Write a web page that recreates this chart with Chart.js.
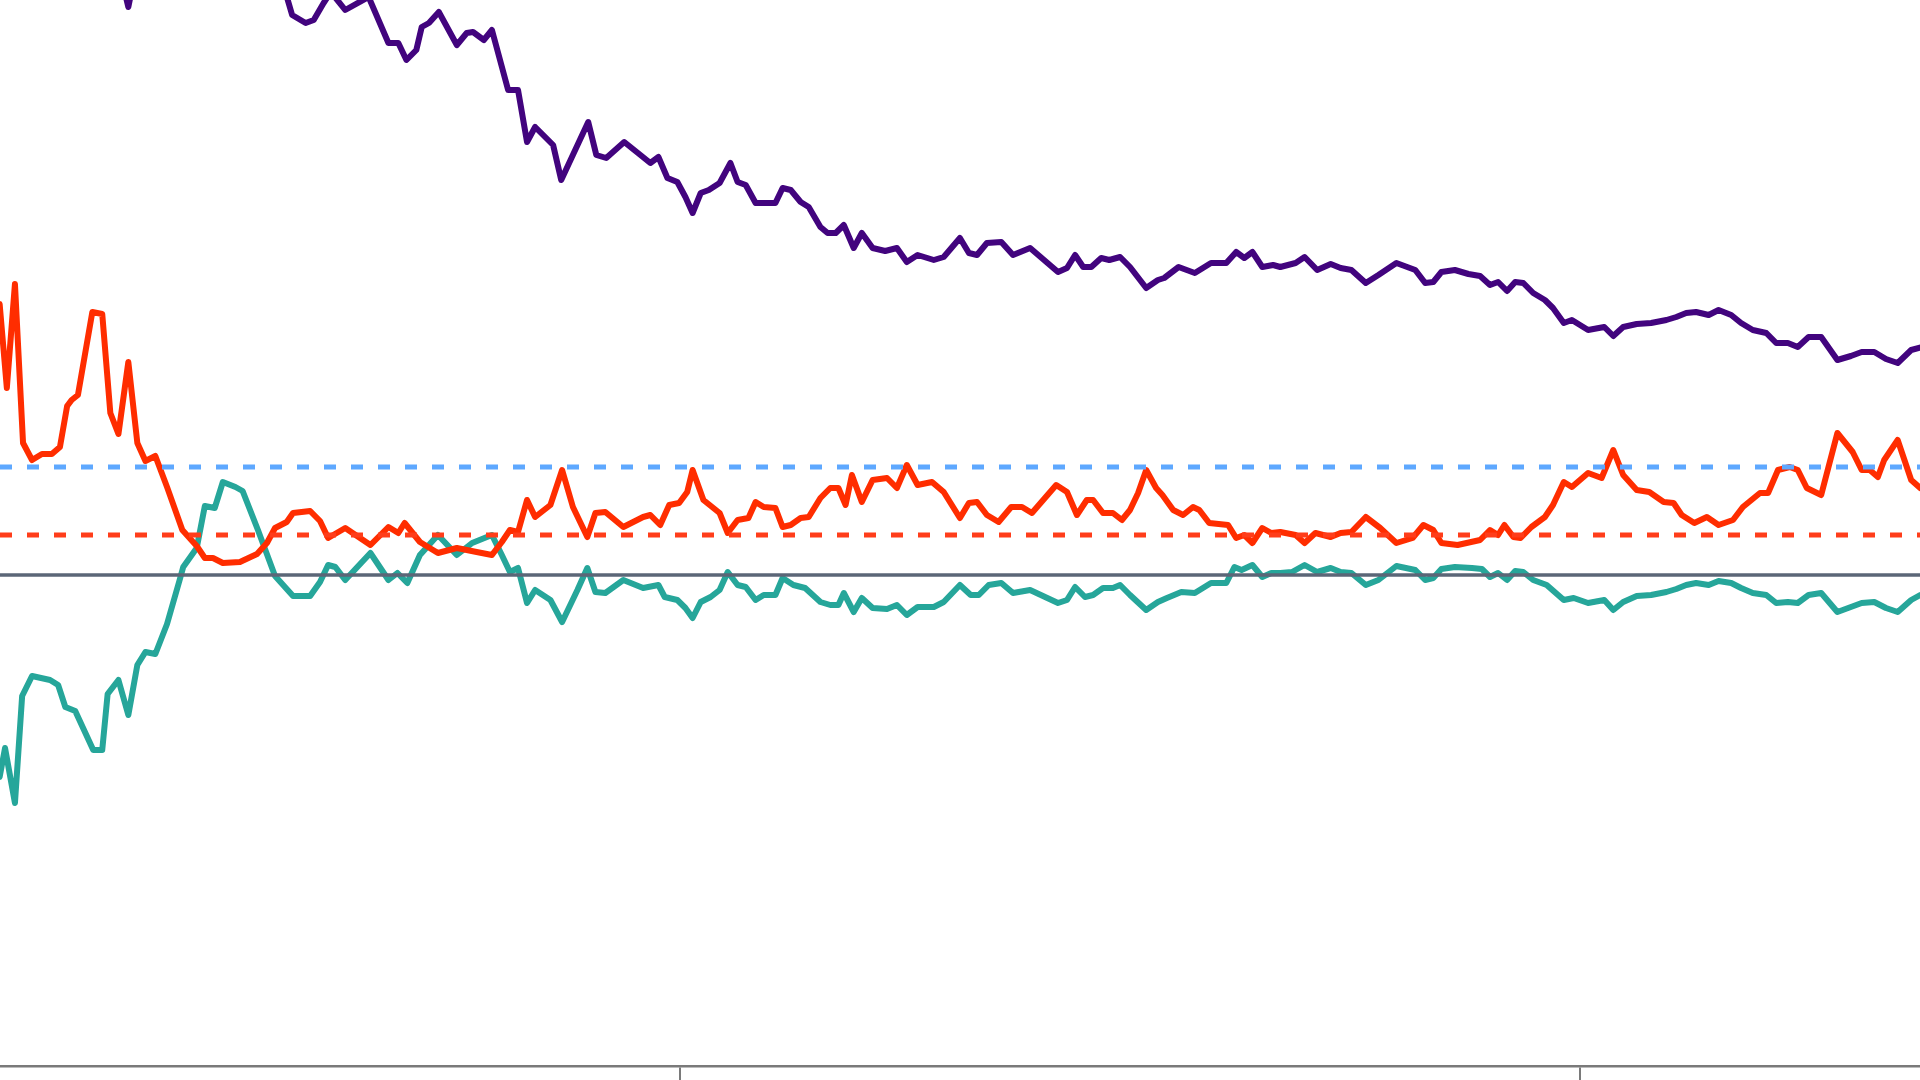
<!DOCTYPE html>
<html>
<head>
<meta charset="utf-8">
<title>Series chart</title>
<script src="https://cdn.jsdelivr.net/npm/chart.js@4/dist/chart.umd.min.js"></script>
<style>
  html, body { margin: 0; padding: 0; background: #ffffff; overflow: hidden; }
  #wrap { position: relative; width: 1920px; height: 1080px; }
</style>
</head>
<body>
<div id="wrap"><canvas id="chart"></canvas></div>
<script>
// Visible window of the chart
const yearRange = [1992.444, 2013.778];
const valueRange = [-24.55, 28.75];
const tickYears = [2000, 2010];

// Reference levels
const zeroLevel = 0;
const targetLevel = 2.0;
const upperLevel = 5.4;
const levelSpan = [1992.144, 2014.5];

// Purple series
const purpleYears = [
  1992.22, 1993.69, 1993.87, 1994.02, 1995.00, 1995.56, 1995.69, 1995.84, 1995.93, 1996.04,
  1996.12, 1996.28, 1996.54, 1996.76, 1996.87, 1996.96, 1997.07, 1997.13, 1997.21, 1997.32,
  1997.52, 1997.63, 1997.70, 1997.82, 1997.91, 1998.09, 1998.20, 1998.30, 1998.39, 1998.59,
  1998.68, 1998.98, 1999.07, 1999.18, 1999.38, 1999.56, 1999.67, 1999.76, 1999.86, 1999.97,
  2000.06, 2000.14, 2000.23, 2000.32, 2000.44, 2000.56, 2000.64, 2000.73, 2000.84, 2001.06,
  2001.14, 2001.23, 2001.34, 2001.43, 2001.56, 2001.64, 2001.73, 2001.82, 2001.93, 2002.02,
  2002.14, 2002.28, 2002.41, 2002.52, 2002.64, 2002.82, 2002.93, 2003.11, 2003.21, 2003.30,
  2003.41, 2003.57, 2003.70, 2003.89, 2004.20, 2004.30, 2004.39, 2004.48, 2004.57, 2004.68,
  2004.77, 2004.89, 2005.00, 2005.18, 2005.31, 2005.38, 2005.54, 2005.72, 2005.90, 2006.07,
  2006.18, 2006.27, 2006.36, 2006.47, 2006.59, 2006.67, 2006.84, 2006.94, 2007.08, 2007.23,
  2007.34, 2007.46, 2007.62, 2007.76, 2007.96, 2008.17, 2008.28, 2008.37, 2008.46, 2008.61,
  2008.76, 2008.89, 2009.00, 2009.09, 2009.19, 2009.28, 2009.37, 2009.48, 2009.61, 2009.70,
  2009.82, 2009.91, 2010.09, 2010.27, 2010.37, 2010.48, 2010.63, 2010.79, 2010.96, 2011.07,
  2011.18, 2011.29, 2011.43, 2011.54, 2011.68, 2011.79, 2011.92, 2012.07, 2012.18, 2012.31,
  2012.42, 2012.54, 2012.68, 2012.86, 2013.01, 2013.13, 2013.27, 2013.40, 2013.53, 2013.68,
  2013.89
];
const purpleValues = [
  32.25, 31.75, 28.4, 31.75, 32.25, 30.0, 28.0, 27.6, 27.75, 28.6,
  29.15, 28.25, 28.9, 26.6, 26.6, 25.75, 26.25, 27.4, 27.6, 28.15,
  26.5, 27.1, 27.15, 26.75, 27.25, 24.25, 24.25, 21.65, 22.4, 21.5,
  19.75, 22.65, 21.0, 20.85, 21.65, 21.0, 20.6, 20.9, 19.85, 19.65,
  18.9, 18.1, 19.1, 19.25, 19.6, 20.6, 19.65, 19.5, 18.6, 18.6,
  19.35, 19.25, 18.65, 18.4, 17.4, 17.1, 17.1, 17.5, 16.35, 17.1,
  16.35, 16.2, 16.35, 15.65, 16.0, 15.75, 15.9, 16.85, 16.1, 16.0,
  16.6, 16.65, 16.0, 16.35, 15.15, 15.35, 16.0, 15.4, 15.4, 15.85,
  15.75, 15.9, 15.4, 14.35, 14.75, 14.85, 15.4, 15.1, 15.6, 15.6,
  16.15, 15.85, 16.15, 15.4, 15.5, 15.4, 15.6, 15.9, 15.25, 15.55,
  15.35, 15.25, 14.6, 15.0, 15.6, 15.25, 14.6, 14.65, 15.15, 15.25,
  15.05, 14.95, 14.5, 14.65, 14.2, 14.65, 14.6, 14.1, 13.75, 13.35,
  12.6, 12.75, 12.25, 12.4, 11.95, 12.4, 12.55, 12.6, 12.75, 12.9,
  13.1, 13.15, 13.0, 13.25, 13.0, 12.6, 12.25, 12.1, 11.6, 11.6,
  11.4, 11.9, 11.9, 10.75, 10.95, 11.15, 11.15, 10.8, 10.6, 11.25,
  11.5
];

// Red series
const redYears = [
  1992.36, 1992.44, 1992.52, 1992.61, 1992.70, 1992.80, 1992.91, 1993.02, 1993.11, 1993.19,
  1993.24, 1993.31, 1993.47, 1993.58, 1993.67, 1993.76, 1993.87, 1993.97, 1994.06, 1994.17,
  1994.30, 1994.47, 1994.63, 1994.72, 1994.81, 1994.92, 1995.11, 1995.30, 1995.41, 1995.50,
  1995.63, 1995.70, 1995.89, 1996.00, 1996.09, 1996.28, 1996.56, 1996.76, 1996.87, 1996.94,
  1997.11, 1997.31, 1997.52, 1997.74, 1997.91, 1998.02, 1998.11, 1998.20, 1998.30, 1998.39,
  1998.56, 1998.69, 1998.81, 1998.97, 1999.06, 1999.17, 1999.37, 1999.59, 1999.67, 1999.78,
  1999.88, 1999.99, 2000.08, 2000.14, 2000.26, 2000.44, 2000.53, 2000.64, 2000.76, 2000.84,
  2000.93, 2001.06, 2001.14, 2001.23, 2001.34, 2001.43, 2001.56, 2001.67, 2001.76, 2001.84,
  2001.91, 2002.02, 2002.14, 2002.30, 2002.41, 2002.52, 2002.64, 2002.80, 2002.93, 2003.11,
  2003.21, 2003.30, 2003.41, 2003.54, 2003.68, 2003.80, 2003.91, 2004.18, 2004.30, 2004.41,
  2004.52, 2004.59, 2004.70, 2004.81, 2004.91, 2005.00, 2005.09, 2005.18, 2005.29, 2005.36,
  2005.48, 2005.59, 2005.70, 2005.77, 2005.88, 2006.09, 2006.18, 2006.27, 2006.36, 2006.47,
  2006.57, 2006.67, 2006.84, 2006.94, 2007.06, 2007.23, 2007.34, 2007.46, 2007.62, 2007.78,
  2007.96, 2008.14, 2008.26, 2008.37, 2008.46, 2008.64, 2008.89, 2009.00, 2009.09, 2009.16,
  2009.26, 2009.34, 2009.46, 2009.61, 2009.70, 2009.82, 2009.91, 2010.09, 2010.24, 2010.37,
  2010.48, 2010.63, 2010.77, 2010.93, 2011.04, 2011.13, 2011.27, 2011.41, 2011.54, 2011.70,
  2011.81, 2012.00, 2012.09, 2012.20, 2012.33, 2012.42, 2012.52, 2012.68, 2012.86, 2013.03,
  2013.13, 2013.22, 2013.31, 2013.38, 2013.53, 2013.68, 2013.78, 2013.89
];
const redValues = [
  15.25, 13.55, 9.35, 14.55, 6.6, 5.75, 6.05, 6.05, 6.4, 8.45,
  8.75, 9.0, 13.15, 13.05, 8.1, 7.05, 10.65, 6.6, 5.7, 5.95,
  4.4, 2.25, 1.45, 0.85, 0.85, 0.6, 0.65, 1.05, 1.6, 2.35,
  2.65, 3.1, 3.2, 2.7, 1.85, 2.35, 1.5, 2.4, 2.1, 2.6,
  1.65, 1.1, 1.35, 1.15, 1.0, 1.65, 2.25, 2.15, 3.75, 2.9,
  3.5, 5.25, 3.4, 1.9, 3.1, 3.15, 2.4, 2.9, 3.0, 2.5,
  3.5, 3.6, 4.15, 5.25, 3.75, 3.1, 2.1, 2.75, 2.85, 3.65,
  3.4, 3.35, 2.4, 2.5, 2.85, 2.9, 3.85, 4.35, 4.35, 3.5,
  5.0, 3.65, 4.75, 4.85, 4.35, 5.5, 4.5, 4.65, 4.15, 2.85,
  3.6, 3.65, 3.0, 2.65, 3.4, 3.4, 3.1, 4.5, 4.15, 3.0,
  3.75, 3.75, 3.1, 3.1, 2.75, 3.25, 4.1, 5.25, 4.35, 4.0,
  3.25, 3.0, 3.4, 3.25, 2.6, 2.5, 1.85, 2.0, 1.6, 2.35,
  2.1, 2.15, 2.0, 1.6, 2.1, 1.9, 2.1, 2.15, 2.9, 2.35,
  1.6, 1.85, 2.5, 2.25, 1.6, 1.5, 1.75, 2.25, 2.0, 2.5,
  1.9, 1.85, 2.4, 2.9, 3.5, 4.65, 4.4, 5.1, 4.85, 6.25,
  5.0, 4.25, 4.15, 3.65, 3.6, 3.0, 2.6, 2.9, 2.5, 2.75,
  3.4, 4.1, 4.1, 5.25, 5.4, 5.25, 4.35, 4.0, 7.1, 6.15,
  5.25, 5.25, 4.9, 5.75, 6.75, 4.75, 4.35, 4.15
];

// Teal series
const tealYears = [
  1992.36, 1992.44, 1992.50, 1992.61, 1992.69, 1992.80, 1993.00, 1993.09, 1993.17, 1993.28,
  1993.48, 1993.58, 1993.64, 1993.76, 1993.87, 1993.97, 1994.06, 1994.17, 1994.30, 1994.44,
  1994.48, 1994.63, 1994.72, 1994.83, 1994.92, 1995.06, 1995.14, 1995.31, 1995.50, 1995.70,
  1995.89, 1996.00, 1996.09, 1996.17, 1996.28, 1996.56, 1996.76, 1996.86, 1996.97, 1997.11,
  1997.31, 1997.52, 1997.69, 1997.91, 1998.02, 1998.11, 1998.20, 1998.30, 1998.39, 1998.56,
  1998.69, 1998.86, 1998.97, 1999.06, 1999.17, 1999.37, 1999.59, 1999.76, 1999.83, 1999.97,
  2000.06, 2000.14, 2000.23, 2000.34, 2000.44, 2000.53, 2000.64, 2000.73, 2000.84, 2000.93,
  2001.06, 2001.14, 2001.26, 2001.39, 2001.56, 2001.67, 2001.76, 2001.82, 2001.93, 2002.02,
  2002.14, 2002.30, 2002.41, 2002.52, 2002.64, 2002.82, 2002.93, 2003.11, 2003.23, 2003.32,
  2003.43, 2003.57, 2003.70, 2003.89, 2004.20, 2004.30, 2004.39, 2004.50, 2004.59, 2004.70,
  2004.81, 2004.89, 2005.00, 2005.18, 2005.31, 2005.41, 2005.57, 2005.72, 2005.90, 2006.07,
  2006.16, 2006.24, 2006.36, 2006.47, 2006.57, 2006.67, 2006.80, 2006.94, 2007.08, 2007.23,
  2007.34, 2007.46, 2007.62, 2007.76, 2007.96, 2008.17, 2008.28, 2008.37, 2008.46, 2008.61,
  2008.80, 2008.91, 2009.00, 2009.09, 2009.19, 2009.28, 2009.37, 2009.48, 2009.63, 2009.82,
  2009.93, 2010.09, 2010.27, 2010.37, 2010.48, 2010.63, 2010.79, 2010.96, 2011.07, 2011.18,
  2011.29, 2011.43, 2011.54, 2011.68, 2011.79, 2011.92, 2012.07, 2012.18, 2012.31, 2012.42,
  2012.54, 2012.68, 2012.86, 2013.01, 2013.13, 2013.27, 2013.40, 2013.53, 2013.68, 2013.78,
  2013.89
];
const tealValues = [
  -9.25, -10.1, -8.65, -11.4, -6.05, -5.05, -5.25, -5.5, -6.6, -6.8,
  -8.75, -8.75, -5.95, -5.25, -7.0, -4.5, -3.85, -3.95, -2.45, -0.25,
  0.4, 1.35, 3.45, 3.35, 4.65, 4.4, 4.2, 2.25, -0.05, -1.05,
  -1.05, -0.35, 0.5, 0.4, -0.25, 1.1, -0.25, 0.1, -0.4, 1.0,
  2.0, 1.0, 1.6, 2.0, 1.0, 0.15, 0.35, -1.4, -0.75, -1.25,
  -2.35, -0.75, 0.35, -0.85, -0.9, -0.25, -0.65, -0.5, -1.1, -1.25,
  -1.65, -2.15, -1.35, -1.1, -0.75, 0.15, -0.5, -0.6, -1.25, -1.0,
  -1.0, -0.15, -0.5, -0.65, -1.35, -1.5, -1.5, -0.9, -1.85, -1.15,
  -1.65, -1.7, -1.5, -2.0, -1.6, -1.6, -1.35, -0.5, -1.0, -1.0,
  -0.5, -0.4, -0.9, -0.75, -1.4, -1.25, -0.6, -1.1, -1.0, -0.65,
  -0.65, -0.5, -1.0, -1.75, -1.35, -1.15, -0.85, -0.9, -0.4, -0.4,
  0.4, 0.25, 0.5, -0.1, 0.1, 0.1, 0.15, 0.5, 0.15, 0.35,
  0.15, 0.1, -0.5, -0.25, 0.45, 0.25, -0.25, -0.15, 0.3, 0.4,
  0.35, 0.3, -0.1, 0.1, -0.25, 0.2, 0.15, -0.25, -0.5, -1.25,
  -1.15, -1.4, -1.25, -1.75, -1.35, -1.05, -1.0, -0.85, -0.7, -0.5,
  -0.4, -0.5, -0.3, -0.4, -0.65, -0.9, -1.0, -1.4, -1.35, -1.4,
  -1.0, -0.9, -1.85, -1.6, -1.4, -1.35, -1.65, -1.85, -1.25, -1.0,
  -0.85
];

const COLORS = {
  purple: '#42047e',
  red: '#ff2d00',
  teal: '#26a69a',
  blueRef: '#5ea8ff',
  redRef: '#ff3d1a',
  zero: '#5b6677',
  axis: '#7a7a7a'
};

function pairs(xs, ys) {
  const n = Math.min(xs.length, ys.length);
  const out = [];
  for (let i = 0; i < n; i++) out.push({ x: xs[i], y: ys[i] });
  return out;
}
function level(v) {
  return levelSpan.map(x => ({ x: x, y: v }));
}

const seriesLine = (label, data, color, order) => ({
  label, data, borderColor: color, borderWidth: 6,
  borderJoinStyle: 'round', borderCapStyle: 'round',
  pointRadius: 0, tension: 0, fill: false, order
});
const refLine = (label, v, color, width, dash, order) => ({
  label, data: level(v), borderColor: color, borderWidth: width,
  borderDash: dash, borderCapStyle: 'butt',
  pointRadius: 0, tension: 0, fill: false, order
});

new Chart(document.getElementById('chart'), {
  type: 'line',
  data: {
    datasets: [
      refLine('upper', upperLevel, COLORS.blueRef, 5, [12, 15], 0),
      refLine('zero', zeroLevel, COLORS.zero, 3.5, [], 1),
      seriesLine('purple', pairs(purpleYears, purpleValues), COLORS.purple, 2),
      refLine('target', targetLevel, COLORS.redRef, 5, [12, 15], 3),
      seriesLine('red', pairs(redYears, redValues), COLORS.red, 4),
      seriesLine('teal', pairs(tealYears, tealValues), COLORS.teal, 5)
    ]
  },
  options: {
    responsive: true,
    maintainAspectRatio: false,
    animation: false,
    layout: { padding: 0 },
    plugins: { legend: { display: false }, tooltip: { enabled: false } },
    scales: {
      x: {
        type: 'linear',
        min: yearRange[0],
        max: yearRange[1],
        afterBuildTicks: s => { s.ticks = tickYears.map(v => ({ value: v })); },
        ticks: { display: false },
        grid: {
          drawOnChartArea: false,
          drawTicks: true,
          tickLength: 14,
          color: COLORS.axis,
          lineWidth: 2
        },
        border: { display: true, color: COLORS.axis, width: 2.5 }
      },
      y: {
        display: false,
        min: valueRange[0],
        max: valueRange[1]
      }
    }
  }
});
</script>
</body>
</html>
